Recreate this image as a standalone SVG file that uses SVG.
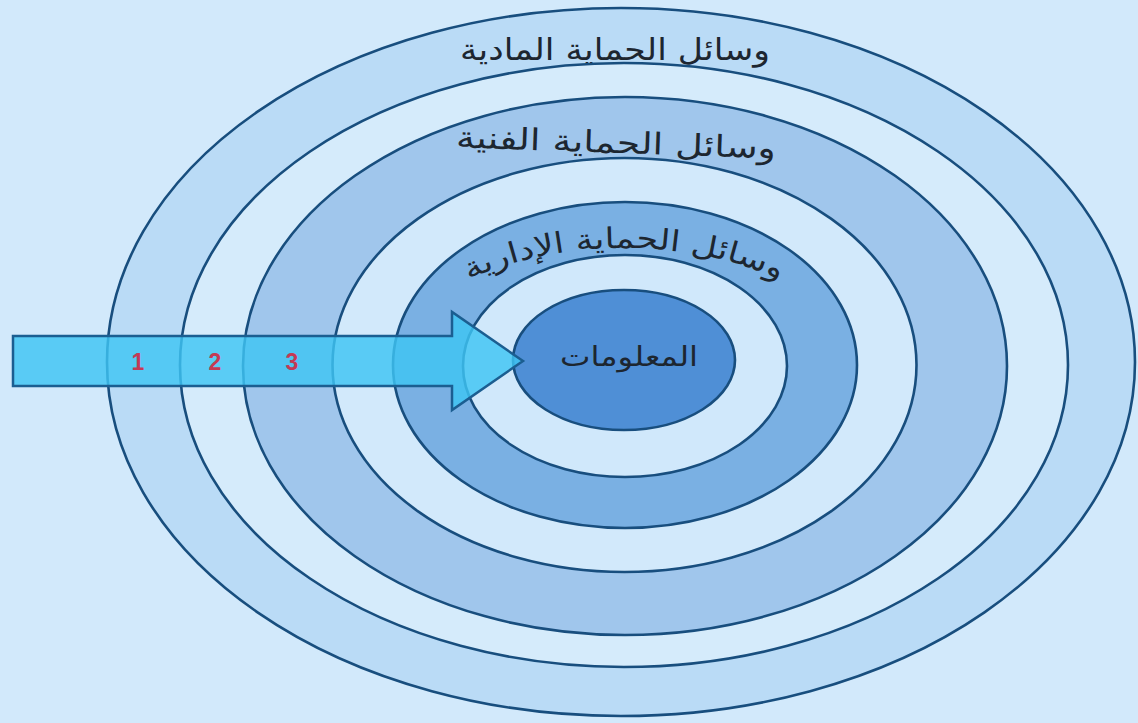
<svg xmlns="http://www.w3.org/2000/svg" width="1138" height="723" viewBox="0 0 1138 723">
  <defs>
    <style>
      .ring { stroke: #184e7e; stroke-width: 2.6; }
      .lbl { font-family: "DejaVu Sans", "Noto Sans", sans-serif; fill: #1d2630; }
      .num { font-family: "Liberation Sans", "Open Sans", sans-serif; font-weight: 700; font-size: 23px; fill: #c43a55; text-anchor: middle; }
    </style>
    <path id="arcAdmin" d="M 392,372 A 232,124 0 0 1 856,372"/>
  </defs>
  <rect x="0" y="0" width="1138" height="723" fill="#d2e9fb"/>

  <g id="ring-physical">
    <ellipse class="ring" cx="621" cy="362" rx="514" ry="354" fill="#badbf6"/>
    <text class="lbl" x="615" y="60" font-size="30" text-anchor="middle" direction="rtl" textLength="310" lengthAdjust="spacingAndGlyphs">وسائل الحماية المادية</text>
  </g>
  <g id="ring-physical-inner">
    <ellipse class="ring" cx="624" cy="365" rx="444" ry="302" fill="#d5ebfb"/>
  </g>
  <g id="ring-technical">
    <ellipse class="ring" cx="625" cy="366" rx="382" ry="269" fill="#a0c6ec"/>
    <text class="lbl" x="616" y="153" font-size="30" text-anchor="middle" direction="rtl" textLength="320" lengthAdjust="spacingAndGlyphs" transform="rotate(2 616 145)">وسائل الحماية  الفنية</text>
  </g>
  <g id="ring-technical-inner">
    <ellipse class="ring" cx="624.5" cy="365" rx="292" ry="207" fill="#d2e9fb"/>
  </g>
  <g id="ring-administrative">
    <ellipse class="ring" cx="625" cy="365" rx="232" ry="163" fill="#7ab0e3"/>
    <text class="lbl" font-size="29" direction="rtl" textLength="320" lengthAdjust="spacingAndGlyphs"><textPath href="#arcAdmin" startOffset="50%" text-anchor="middle">وسائل الحماية الإدارية</textPath></text>
  </g>
  <g id="ring-administrative-inner">
    <ellipse class="ring" cx="625" cy="366" rx="162" ry="111" fill="#d0e8fb"/>
  </g>
  <g id="information">
    <ellipse class="ring" cx="624" cy="360" rx="111" ry="70" fill="#4f8fd6"/>
    <text class="lbl" x="629" y="366" font-size="27" text-anchor="middle" direction="rtl" textLength="138" lengthAdjust="spacingAndGlyphs">المعلومات</text>
  </g>

  <g id="connectors">
    <path d="M 13,336 L 452,336 L 452,312 L 523,361 L 452,410 L 452,386 L 13,386 Z" fill="#3ec5f3" fill-opacity="0.82" stroke="#1b5e91" stroke-width="2.5" stroke-linejoin="miter"/>
    <text class="num" x="138" y="370">1</text>
    <text class="num" x="215" y="370">2</text>
    <text class="num" x="292" y="370">3</text>
  </g>
</svg>
